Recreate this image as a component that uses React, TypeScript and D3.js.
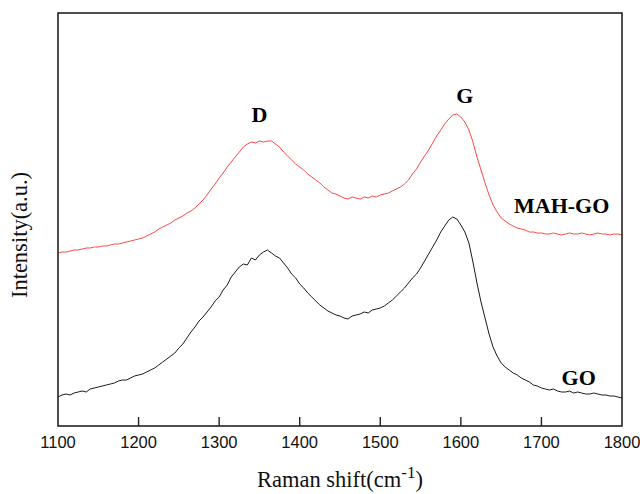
import React, { useEffect, useRef } from 'react';
import * as d3 from 'd3';

// Raman shift sampling grid (cm^-1), 5 cm^-1 step
const ramanShift: number[] = d3.range(1100, 1801, 5);

// GO spectrum intensity (a.u.)
const goIntensity: number[] = [
  35, 37, 38, 37, 39, 40, 41, 40, 43, 44,
  45, 46, 47, 48, 49, 51, 52, 52, 54, 56,
  57, 58, 60, 62, 64, 67, 70, 73, 76, 79,
  84, 88, 94, 100, 105, 111, 115, 120, 125, 131,
  135, 142, 147, 155, 160, 165, 168, 167, 174, 172,
  177, 180, 182, 179, 176, 174, 169, 164, 158, 154,
  148, 144, 139, 135, 131, 127, 124, 121, 119, 117,
  116, 114, 113, 116, 117, 118, 120, 119, 122, 123,
  124, 126, 129, 132, 136, 140, 144, 149, 154, 158,
  164, 171, 178, 185, 192, 200, 206, 212, 215, 213,
  207, 200, 189, 170, 149, 130, 114, 98, 85, 76,
  69, 65, 62, 59, 57, 54, 52, 50, 47, 46,
  44, 43, 42, 43, 41, 40, 40, 41, 39, 40,
  39, 38, 38, 39, 38, 37, 37, 36, 36, 35,
  34,
];

// MAH-GO spectrum intensity (a.u.)
const mahGoIntensity: number[] = [
  179, 180, 180, 181, 182, 182, 183, 184, 184, 185,
  185, 186, 186, 187, 188, 188, 189, 190, 191, 192,
  193, 194, 196, 198, 200, 203, 205, 207, 209, 212,
  214, 216, 219, 221, 224, 228, 232, 237, 243, 248,
  254, 259, 265, 270, 275, 280, 285, 288, 290, 289,
  291, 290, 291, 291, 288, 285, 280, 276, 272, 268,
  265, 262, 258, 255, 252, 249, 245, 242, 239, 238,
  236, 234, 233, 235, 234, 233, 235, 234, 236, 235,
  237, 238, 239, 241, 243, 245, 248, 252, 258, 263,
  270, 276, 282, 289, 296, 302, 308, 313, 317, 318,
  315, 310, 302, 290, 275, 262, 249, 237, 227, 220,
  214, 211, 208, 206, 204, 203, 202, 200, 200, 199,
  199, 198, 198, 199, 198, 197, 198, 199, 198, 198,
  199, 198, 197, 198, 199, 198, 198, 197, 198, 198,
  197,
];

const xTicks: number[] = [1100, 1200, 1300, 1400, 1500, 1600, 1700, 1800];

const peakLabels = [
  { text: 'D', shift: 1350, intensity: 310 },
  { text: 'G', shift: 1605, intensity: 329 },
];

const seriesLabels = [
  { text: 'MAH-GO', shift: 1666, intensity: 219 },
  { text: 'GO', shift: 1725, intensity: 47 },
];

const W = 640;
const H = 494;
const frame = { left: 58, right: 622, top: 13, bottom: 426 };

export default function App() {
  const ref = useRef<SVGSVGElement>(null);

  useEffect(() => {
    const svg = d3.select(ref.current);
    svg.selectAll('*').remove();

    const x = d3.scaleLinear().domain([1100, 1800]).range([frame.left, frame.right]);
    const y = d3.scaleLinear().domain([6, 419]).range([frame.bottom, frame.top]);

    const line = d3
      .line<[number, number]>()
      .x((d) => x(d[0]))
      .y((d) => y(d[1]));

    const goPts = ramanShift.map((s, i) => [s, goIntensity[i]] as [number, number]);
    const mahPts = ramanShift.map((s, i) => [s, mahGoIntensity[i]] as [number, number]);

    svg
      .append('path')
      .attr('d', line(mahPts))
      .attr('fill', 'none')
      .attr('stroke', '#ff4848')
      .attr('stroke-width', 1);

    svg
      .append('path')
      .attr('d', line(goPts))
      .attr('fill', 'none')
      .attr('stroke', '#1a1a1a')
      .attr('stroke-width', 1);

    // plot frame
    svg
      .append('rect')
      .attr('x', frame.left)
      .attr('y', frame.top)
      .attr('width', frame.right - frame.left)
      .attr('height', frame.bottom - frame.top)
      .attr('fill', 'none')
      .attr('stroke', '#222')
      .attr('stroke-width', 1.6);

    // inward ticks on the bottom axis
    const inner = xTicks.slice(1, -1);
    svg
      .selectAll('line.tick')
      .data(inner)
      .enter()
      .append('line')
      .attr('x1', (d) => x(d))
      .attr('x2', (d) => x(d))
      .attr('y1', frame.bottom)
      .attr('y2', frame.bottom - 9)
      .attr('stroke', '#222')
      .attr('stroke-width', 1.4);

    svg
      .selectAll('text.tl')
      .data(xTicks)
      .enter()
      .append('text')
      .attr('x', (d) => x(d))
      .attr('y', 448)
      .attr('text-anchor', 'middle')
      .attr('font-family', '"Liberation Sans", Arial, sans-serif')
      .attr('font-size', 16.5)
      .attr('fill', '#111')
      .text((d) => String(d));

    // axis titles
    const xt = svg
      .append('text')
      .attr('x', 340)
      .attr('y', 487)
      .attr('text-anchor', 'middle')
      .attr('font-family', '"Liberation Serif", "Times New Roman", serif')
      .attr('font-size', 22.5)
      .attr('fill', '#111');
    xt.append('tspan').text('Raman shift(cm');
    xt.append('tspan').attr('dy', -9).attr('font-size', 17).text('-1');
    xt.append('tspan').attr('dy', 9).text(')');

    svg
      .append('text')
      .attr('transform', `translate(27, 235) rotate(-90)`)
      .attr('text-anchor', 'middle')
      .attr('font-family', '"Liberation Serif", "Times New Roman", serif')
      .attr('font-size', 22.5)
      .attr('fill', '#111')
      .text('Intensity(a.u.)');

    // peak and series labels
    svg
      .selectAll('text.pl')
      .data([...peakLabels, ...seriesLabels])
      .enter()
      .append('text')
      .attr('x', (d) => x(d.shift))
      .attr('y', (d) => y(d.intensity))
      .attr('text-anchor', (d) => (d.text.length > 1 ? 'start' : 'middle'))
      .attr('font-family', '"Liberation Serif", "Times New Roman", serif')
      .attr('font-weight', 'bold')
      .attr('font-size', 22)
      .attr('fill', '#000')
      .text((d) => d.text);
  }, []);

  return (
    <svg
      ref={ref}
      width={W}
      height={H}
      style={{ position: 'absolute', left: 0, top: 0, background: '#fff' }}
    />
  );
}
